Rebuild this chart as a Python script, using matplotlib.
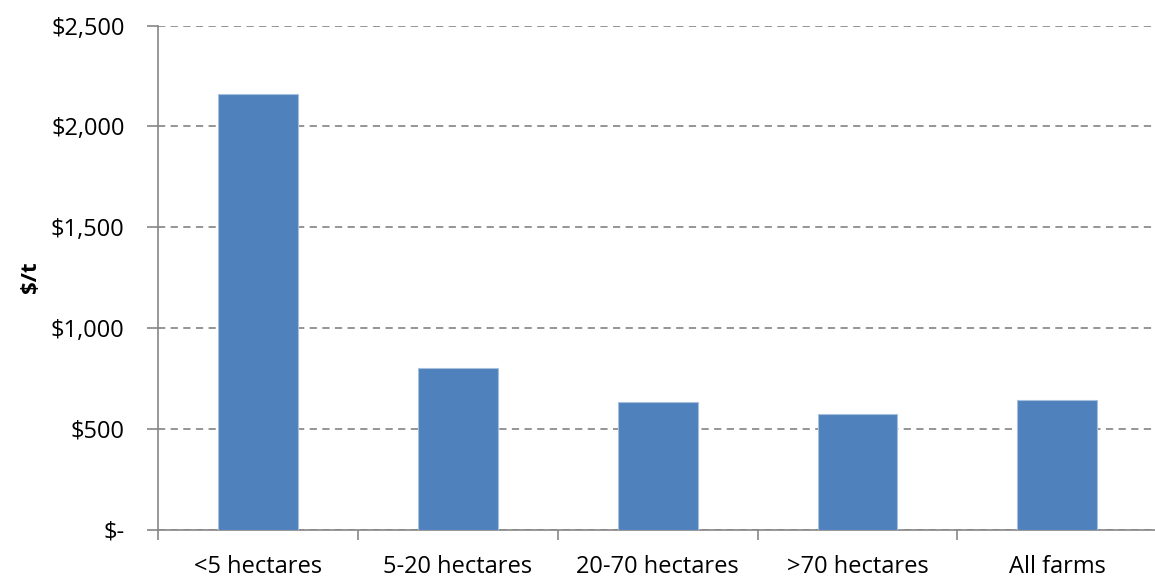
import numpy as np
import matplotlib.pyplot as plt
from matplotlib.ticker import FixedLocator

categories = ['<5 hectares', '5-20 hectares', '20-70 hectares', '>70 hectares', 'All farms']
values = [2158, 802, 631, 571, 641]
yticks = [0, 500, 1000, 1500, 2000, 2500]
ylabels = ['$-', '$500', '$1,000', '$1,500', '$2,000', '$2,500']

plt.rcParams['font.family'] = ['Open Sans', 'DejaVu Sans']

fig = plt.figure(figsize=(11.55, 5.77), dpi=100)
ax = fig.add_axes([0.1368, 0.0823, 0.8652, 0.8735])

x = np.arange(len(categories))
ax.bar(x, values, width=0.4, color='#4F81BD', edgecolor='#A7C0DE', linewidth=0.8, zorder=3)

ax.set_xlim(-0.5, len(categories) - 0.5)
ax.set_ylim(0, 2500)
ax.set_yticks(yticks)
ax.set_yticklabels(ylabels, fontsize=17)
ax.yaxis.grid(True, color='#8C8C8C', linestyle=(0, (4, 3)), linewidth=1.3, zorder=0)

ax.set_xticks(x)
ax.set_xticklabels(categories, fontsize=17)
ax.tick_params(axis='x', which='major', length=0, pad=18)
ax.xaxis.set_minor_locator(FixedLocator(np.arange(-0.5, len(categories), 1.0)))
ax.tick_params(axis='x', which='minor', length=7, color='#868686', width=1.2)
ax.tick_params(axis='y', length=8, color='#868686', width=1.2, pad=16)

for s in ['top', 'right']:
    ax.spines[s].set_visible(False)
for s in ['left', 'bottom']:
    ax.spines[s].set_color('#868686')
    ax.spines[s].set_linewidth(1.2)

ax.set_ylabel('$/t', fontsize=16, fontweight='bold', labelpad=7)

fig.savefig('out.png', dpi=100)
